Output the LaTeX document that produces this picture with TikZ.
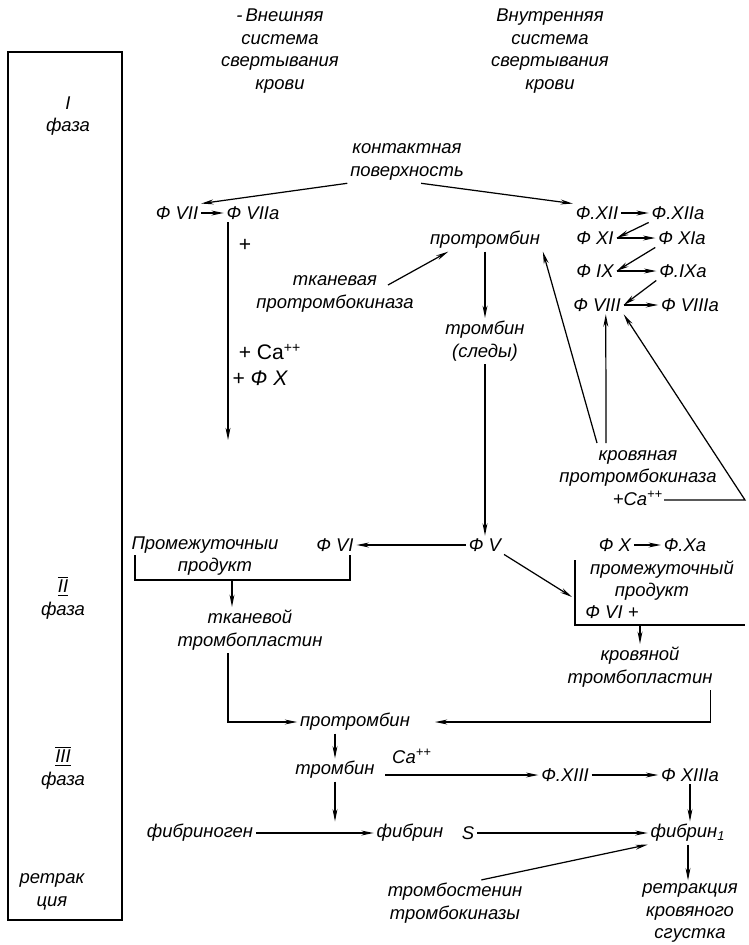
\documentclass[tikz,border=0pt]{standalone}
\usepackage{fontspec}
\setmainfont{Liberation Sans}
\usetikzlibrary{arrows.meta}
\tikzset{
  lbl/.style={font=\itshape\fontsize{10.5}{13}\selectfont, align=center, inner sep=1.5pt},
  plus/.style={lbl, font=\fontsize{12}{14}\selectfont},
  arr/.style={-{Stealth[length=7pt,width=2.8pt]}, line width=0.7pt},
  ln/.style={line width=0.7pt}
}
\begin{document}
\begin{tikzpicture}[x=0.2mm,y=-0.2mm]
\useasboundingbox (0,0) rectangle (749,945);
\draw [ln] (8,52) rectangle (122,920);
\node[lbl] (ph1) at (68,116) {I\\фаза};
\node[lbl] (ph2) at (63,598) {$\overline{\underline{\mbox{II}}}$\\фаза};
\node[lbl] (ph3) at (63,768) {$\overline{\underline{\mbox{III}}}$\\фаза};
\node[lbl] (ph4) at (52,892) {ретрак\\ция};
\node[lbl] (hext) at (280,51) {-\,Внешняя\\система\\свертывания\\крови};
\node[lbl] (hint) at (550,51) {Внутренняя\\система\\свертывания\\крови};
\node[lbl] (kont) at (407,162) {контактная\\поверхность};
\node[lbl] (f7) at (177,213) {Ф VII};
\node[lbl] (f7a) at (253,213) {Ф VIIa};
\node[lbl] (f12) at (597,213) {Ф.XII};
\node[lbl] (f12a) at (678,213) {Ф.XIIa};
\node[lbl] (f11) at (595,238) {Ф XI};
\node[lbl] (f11a) at (682,238) {Ф XIa};
\node[lbl] (f9) at (595,271) {Ф IX};
\node[lbl] (f9a) at (683,271) {Ф.IXa};
\node[lbl] (f8) at (597,305) {Ф VIII};
\node[lbl] (f8a) at (690,305) {Ф VIIIa};
\node[lbl] (ptb) at (485,240) {протромбин};
\node[plus] (pl1) at (245,245) {+};
\node[lbl] (tkpk) at (335,294) {тканевая\\протромбокиназа};
\node[lbl] (trs) at (485,341) {тромбин\\(следы)};
\node[plus] (pl2) at (270,352) {+ Ca\textsuperscript{++}};
\node[plus] (pl3) at (260,378) {+ \itshape Ф X};
\node[lbl] (krpk) at (638,478) {кровяная\\протромбокиназа\\+Ca\textsuperscript{++}};
\node[lbl] (prom1) at (205,545) {Промежуточныи};
\node[lbl] (prod1) at (215,567) {продукт};
\node[lbl] (f6) at (335,545) {Ф VI};
\node[lbl] (f5) at (485,545) {Ф V};
\node[lbl] (f10) at (615,545) {Ф X};
\node[lbl] (f10a) at (685,545) {Ф.Xa};
\node[lbl] (prom2) at (662,570) {промежуточный};
\node[lbl] (prod2) at (652,592) {продукт};
\node[lbl] (f6b) at (612,612) {Ф VI +};
\node[lbl] (tkpl) at (250,630) {тканевой\\тромбопластин};
\node[lbl] (krpl) at (640,667) {кровяной\\тромбопластин};
\node[lbl] (ptb2) at (355,722) {протромбин};
\node[lbl] (tr) at (335,770) {тромбин};
\node[lbl] (ca) at (412,756) {Ca\textsuperscript{++}};
\node[lbl] (f13) at (565,775) {Ф.XIII};
\node[lbl] (f13a) at (690,775) {Ф XIIIa};
\node[lbl] (fbg) at (200,833) {фибриноген};
\node[lbl] (fb) at (410,833) {фибрин};
\node[lbl] (s) at (468,833) {S};
\node[lbl] (fb1) at (688,833) {фибрин\textsubscript{1}};
\node[lbl] (tst) at (455,903) {тромбостенин\\тромбокиназы};
\node[lbl] (ret) at (690,913) {ретракция\\кровяного\\сгустка};
\coordinate (v7) at (228,222);
\coordinate (v7e) at (228,440);
\coordinate (tk) at (388,285);
\coordinate (k1) at (597,443);
\coordinate (k2) at (606,443);
\coordinate (t1) at (664,500);
\coordinate (t2) at (745,500);
\coordinate (bl1) at (135,555);
\coordinate (bl2) at (350,555);
\coordinate (blm) at (232,580);
\coordinate (br1) at (575,560);
\coordinate (br2) at (745,625);
\coordinate (brm) at (640,625);
\coordinate (brt) at (572,597);
\coordinate (c3) at (435,722);
\coordinate (c4) at (385,775);
\draw[arr] (kont.south west) -- (f7.north east);
\draw[arr] ([xshift=8pt]kont.south) -- (f12.north west);
\draw[arr] (f7) -- (f7a);
\draw[arr] (v7) -- (v7e);
\draw[arr] (tk) -- ([xshift=12pt]ptb.south west);
\draw[arr] (ptb) -- (trs);
\draw[arr] (f12) -- (f12a);
\draw[arr] (f12a.south west) -- (f11.east);
\draw[arr] (f11) -- (f11a);
\draw[arr] (f11a.south west) -- (f9.east);
\draw[arr] (f9) -- (f9a);
\draw[arr] (f9a.south west) -- (f8.east);
\draw[arr] (f8) -- (f8a);
\draw[arr] (k1) -- (ptb.south east);
\draw[arr] (k2) -- ([xshift=5pt]f8.south);
\draw[arr] (t1) -- (t2) -- (f8.south east);
\draw[arr] (trs) -- (f5);
\draw[arr] (f5) -- (f6);
\draw[ln] (bl1) -- (bl1 |- blm) -- (bl2 |- blm) -- (bl2);
\draw[arr] (blm) -- (blm |- tkpl.north);
\draw[arr] (tkpl.south -| v7) |- (ptb2);
\draw[arr] (f5.south east) -- (brt);
\draw[ln] (br1) -- (br1 |- br2) -- (br2);
\draw[arr] (f10) -- (f10a);
\draw[arr] (brm) -- (brm |- krpl.north);
\draw[arr] ([xshift=-3pt]krpl.south east) |- (c3);
\draw[arr] (ptb2.south -| tr) -- (tr);
\draw[arr] (c4) -- (f13);
\draw[arr] (f13) -- (f13a);
\draw[arr] (f13a.south) -- (f13a.south |- fb1.north);
\draw[arr] (tr.south) -- (tr.south |- fb.north);
\draw[arr] (fbg) -- (fb);
\draw[arr] (s) -- (fb1);
\draw[arr] ([xshift=15pt]tst.north) -- (fb1.south west);
\draw[arr] (fb1.south) -- (fb1.south |- ret.north);
\end{tikzpicture}
\end{document}
